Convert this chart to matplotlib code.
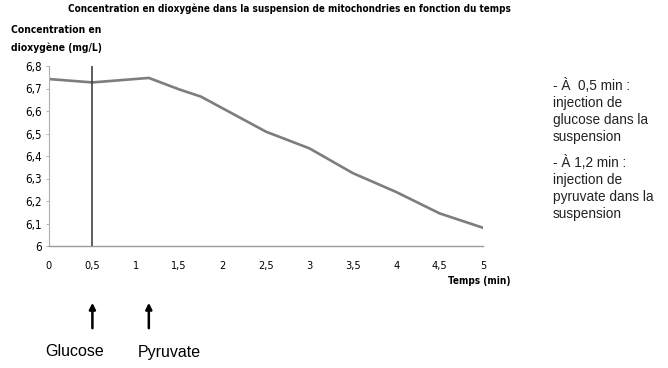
import matplotlib.pyplot as plt

# Données
temps = [0, 0.5, 1.15, 1.5, 1.75, 2.0, 2.5, 3.0, 3.5, 4.0, 4.5, 5.0]
concentration = [6.742, 6.727, 6.747, 6.696, 6.664, 6.612, 6.508, 6.434, 6.324, 6.24, 6.145, 6.081]
injections = [0.5, 1.15]
noms_injections = ["Glucose", "Pyruvate"]
xticks = [0, 0.5, 1, 1.5, 2, 2.5, 3, 3.5, 4, 4.5, 5]
yticks = [6, 6.1, 6.2, 6.3, 6.4, 6.5, 6.6, 6.7, 6.8]

narrow = ['DejaVu Sans']
arial = ['Liberation Sans', 'DejaVu Sans']

fig = plt.figure(figsize=(6.68, 3.68), dpi=100)
W, H = 668, 368
ax = fig.add_axes([49 / W, 1 - 246 / H, 434 / W, 180 / H])

ax.plot(temps, concentration, color='#7d7d7d', linewidth=1.9)
ax.axvline(injections[0], color='#333333', linewidth=1.1)

ax.set_xlim(0, 5)
ax.set_ylim(6, 6.8)
ax.set_xticks(xticks)
ax.set_xticklabels([str(v).replace('.', ',') for v in xticks], family=narrow, stretch='condensed', fontsize=7.8)
ax.set_yticks(yticks)
ax.set_yticklabels([f"{v:g}".replace('.', ',') for v in yticks], family=narrow, stretch='condensed', fontsize=8.3)
ax.tick_params(axis='x', length=0, pad=11)
ax.tick_params(axis='y', length=2, width=0.6, color='#aaaaaa', pad=3)

for s in ['top', 'right']:
    ax.spines[s].set_visible(False)
ax.spines['left'].set_color('#b0b0b0')
ax.spines['left'].set_linewidth(0.8)
ax.spines['bottom'].set_color('#9a9a9a')
ax.spines['bottom'].set_linewidth(1.0)
ax.spines['bottom'].set_linestyle((0, (5, 1)))

# Titres
fig.text(289 / W, 1 - 9 / H, "Concentration en dioxygène dans la suspension de mitochondries en fonction du temps",
         ha='center', va='center', family=narrow, stretch='condensed', fontsize=7.1, fontweight='bold')
fig.text(11 / W, 1 - 39 / H, "Concentration en\ndioxygène (mg/L)", ha='left', va='center',
         family=narrow, stretch='condensed', fontsize=7.4, fontweight='bold', linespacing=1.9)
fig.text(511 / W, 1 - 281 / H, "Temps (min)", ha='right', va='center',
         family=narrow, stretch='condensed', fontsize=7.2, fontweight='bold')

# Flèches d'injection
offsets = [-47, -11]
for t, nom, dx in zip(injections, noms_injections, offsets):
    ax.annotate('', xy=(t, 1 - 300 / H), xytext=(t, 1 - 331 / H),
                xycoords=('data', 'figure fraction'), textcoords=('data', 'figure fraction'),
                arrowprops=dict(arrowstyle='-|>', color='black', lw=1.8, mutation_scale=9))
    xp = 49 + t * 434 / 5 + dx
    fig.text(xp / W, 1 - 352 / H, nom, ha='left', va='center', family=arial, fontsize=11.5)

# Texte à droite
fig.text(553 / W, 1 - 78 / H, "- À  0,5 min :\ninjection de\nglucose dans la\nsuspension",
         ha='left', va='top', family=arial, fontsize=9.8, linespacing=1.27, color='#222222')
fig.text(553 / W, 1 - 155 / H, "- À 1,2 min :\ninjection de\npyruvate dans la\nsuspension",
         ha='left', va='top', family=arial, fontsize=9.8, linespacing=1.27, color='#222222')

fig.savefig('out.png', dpi=100)
